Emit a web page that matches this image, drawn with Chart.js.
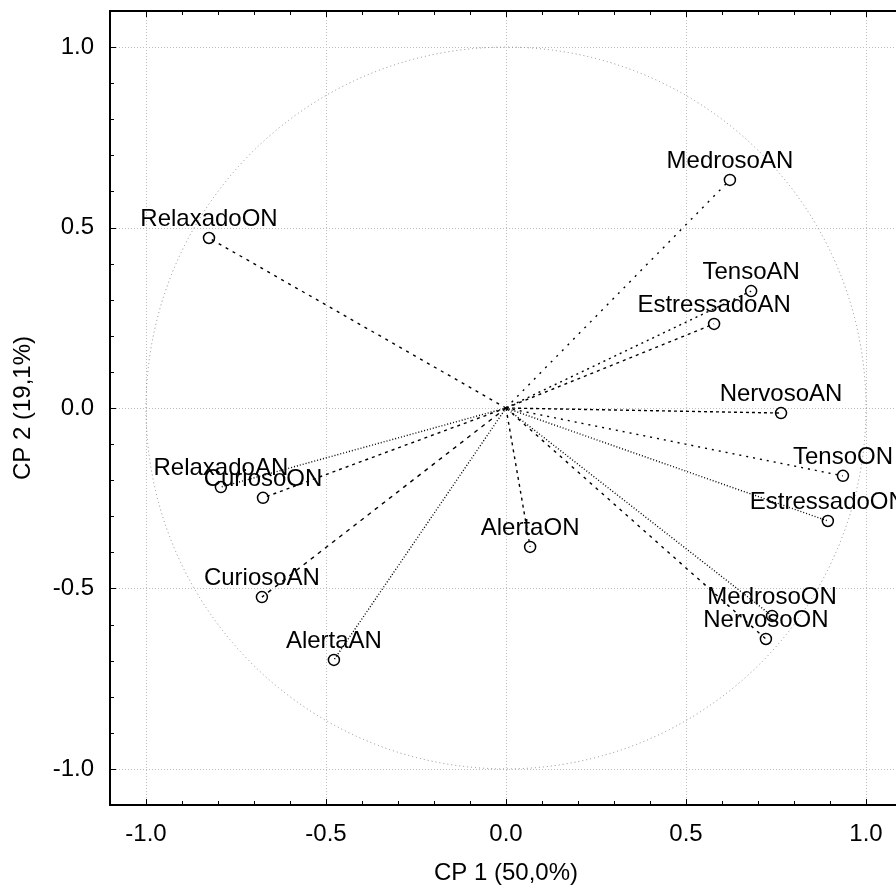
<!DOCTYPE html>
<html>
<head>
<meta charset="utf-8">
<script src="https://cdn.jsdelivr.net/npm/chart.js@4"></script>
<style>
html, body { margin: 0; padding: 0; background: #fff; overflow: hidden; }
#wrap { width: 910px; height: 891px; }
</style>
</head>
<body>
<div id="wrap"><canvas id="chart" width="910" height="891"></canvas></div>
<script>
// variáveis e cargas nos dois componentes
const variables = ['MedrosoAN', 'RelaxadoON', 'TensoAN', 'EstressadoAN', 'NervosoAN', 'TensoON', 'EstressadoON',
    'MedrosoON', 'NervosoON', 'RelaxadoAN', 'CuriosoON', 'CuriosoAN', 'AlertaAN', 'AlertaON'];
const cp1 = [0.622, -0.825, 0.681, 0.578, 0.764, 0.936, 0.894, 0.739, 0.722, -0.792, -0.675, -0.678, -0.478, 0.067];
const cp2 = [0.632, 0.471, 0.324, 0.233, -0.014, -0.188, -0.313, -0.576, -0.640, -0.219, -0.249, -0.524, -0.698, -0.385];

const tickValues = [-1, -0.5, 0, 0.5, 1];
const tickLabels = ['-1.0', '-0.5', '0.0', '0.5', '1.0'];
const titleX = 'CP 1 (50,0%)';
const titleY = 'CP 2 (19,1%)';

// estilo das linhas (tracejado)
const dashes = {
    MedrosoAN: [2, 6], RelaxadoON: [3, 5], TensoAN: [2, 4], EstressadoAN: [3, 4], NervosoAN: [3, 3],
    TensoON: [2, 5], EstressadoON: [1, 2], MedrosoON: [1, 2], NervosoON: [3, 5], RelaxadoAN: [1, 2],
    CuriosoON: [3, 4], CuriosoAN: [4, 5], AlertaAN: [1, 2], AlertaON: [3, 4]
};

const FONT = '"Liberation Sans", Arial, sans-serif';

const datasets = variables.map((name, i) => ({
    label: name,
    data: [{ x: 0, y: 0 }, { x: cp1[i], y: cp2[i] }],
    showLine: true,
    borderColor: '#000',
    borderWidth: 1.4,
    borderDash: dashes[name],
    pointRadius: [0, 5.5],
    pointBorderWidth: 1.5,
    pointBorderColor: '#000',
    pointBackgroundColor: 'rgba(0,0,0,0)'
}));

const decor = {
    id: 'decor',
    beforeDatasetsDraw(chart) {
        const { ctx, chartArea: a, scales: { x, y } } = chart;
        ctx.save();
        ctx.strokeStyle = '#bdbdbd';
        ctx.lineWidth = 1;
        ctx.setLineDash([1, 2]);
        tickValues.forEach(v => {
            const px = Math.round(x.getPixelForValue(v)) + 0.5;
            ctx.beginPath(); ctx.moveTo(px, a.top); ctx.lineTo(px, a.bottom); ctx.stroke();
            const py = Math.round(y.getPixelForValue(v)) + 0.5;
            ctx.beginPath(); ctx.moveTo(a.left, py); ctx.lineTo(a.right, py); ctx.stroke();
        });
        // círculo de correlação
        const cx = x.getPixelForValue(0), cy = y.getPixelForValue(0);
        const rx = x.getPixelForValue(1) - cx, ry = cy - y.getPixelForValue(1);
        ctx.strokeStyle = '#8a8a8a';
        ctx.setLineDash([1, 3]);
        ctx.beginPath(); ctx.ellipse(cx, cy, rx, ry, 0, 0, Math.PI * 2); ctx.stroke();
        ctx.restore();
    },
    afterDatasetsDraw(chart) {
        const { ctx } = chart;
        ctx.save();
        ctx.fillStyle = '#000';
        ctx.font = '24px ' + FONT;
        ctx.textAlign = 'center';
        ctx.textBaseline = 'alphabetic';
        chart.data.datasets.forEach((ds, i) => {
            const pt = chart.getDatasetMeta(i).data[1];
            ctx.fillText(ds.label, pt.x, pt.y - 12);
        });
        ctx.restore();
    },
    afterDraw(chart) {
        const { ctx, chartArea: a, scales: { x, y } } = chart;
        ctx.save();
        ctx.strokeStyle = '#000';
        ctx.lineWidth = 2;
        ctx.strokeRect(a.left, a.top, a.right - a.left, a.bottom - a.top);
        ctx.lineWidth = 1;
        for (let k = -10; k <= 10; k++) {
            const len = k % 5 === 0 ? 6 : 4;
            const px = Math.round(x.getPixelForValue(k / 10)) + 0.5;
            ctx.beginPath();
            ctx.moveTo(px, a.bottom); ctx.lineTo(px, a.bottom - len);
            ctx.moveTo(px, a.top); ctx.lineTo(px, a.top + len);
            ctx.stroke();
            const py = Math.round(y.getPixelForValue(k / 10)) + 0.5;
            ctx.beginPath();
            ctx.moveTo(a.left, py); ctx.lineTo(a.left + len, py);
            ctx.moveTo(a.right, py); ctx.lineTo(a.right - len, py);
            ctx.stroke();
        }
        ctx.restore();
    }
};

const axisCommon = (title, fitFn, titlePad) => ({
    type: 'linear',
    min: -1.1,
    max: 1.1,
    afterBuildTicks: s => { s.ticks = tickValues.map(v => ({ value: v })); },
    afterFit: fitFn,
    grid: { display: false, drawTicks: false },
    border: { display: false },
    ticks: {
        autoSkip: false,
        maxRotation: 0,
        color: '#000',
        font: { family: FONT, size: 24 },
        callback: (v, i) => tickLabels[i]
    },
    title: {
        display: true,
        text: title,
        color: '#000',
        font: { family: FONT, size: 24 },
        padding: titlePad
    }
});

const xAxis = axisCommon(titleX, s => {
    s.height = 86; s.paddingLeft = 0; s.paddingRight = 0;
}, { top: 0, bottom: 3 });
xAxis.ticks.padding = 15;
const yAxis = axisCommon(titleY, s => {
    s.width = 110; s.paddingTop = 0; s.paddingBottom = 0;
}, { top: 9, bottom: 0 });
yAxis.ticks.padding = 16;

new Chart(document.getElementById('chart'), {
    type: 'scatter',
    data: { datasets },
    options: {
        responsive: false,
        devicePixelRatio: 1,
        animation: false,
        layout: { padding: { top: 11, right: 8, bottom: 0, left: 0 } },
        plugins: { legend: { display: false }, tooltip: { enabled: false } },
        scales: { x: xAxis, y: yAxis }
    },
    plugins: [decor]
});
</script>
</body>
</html>
